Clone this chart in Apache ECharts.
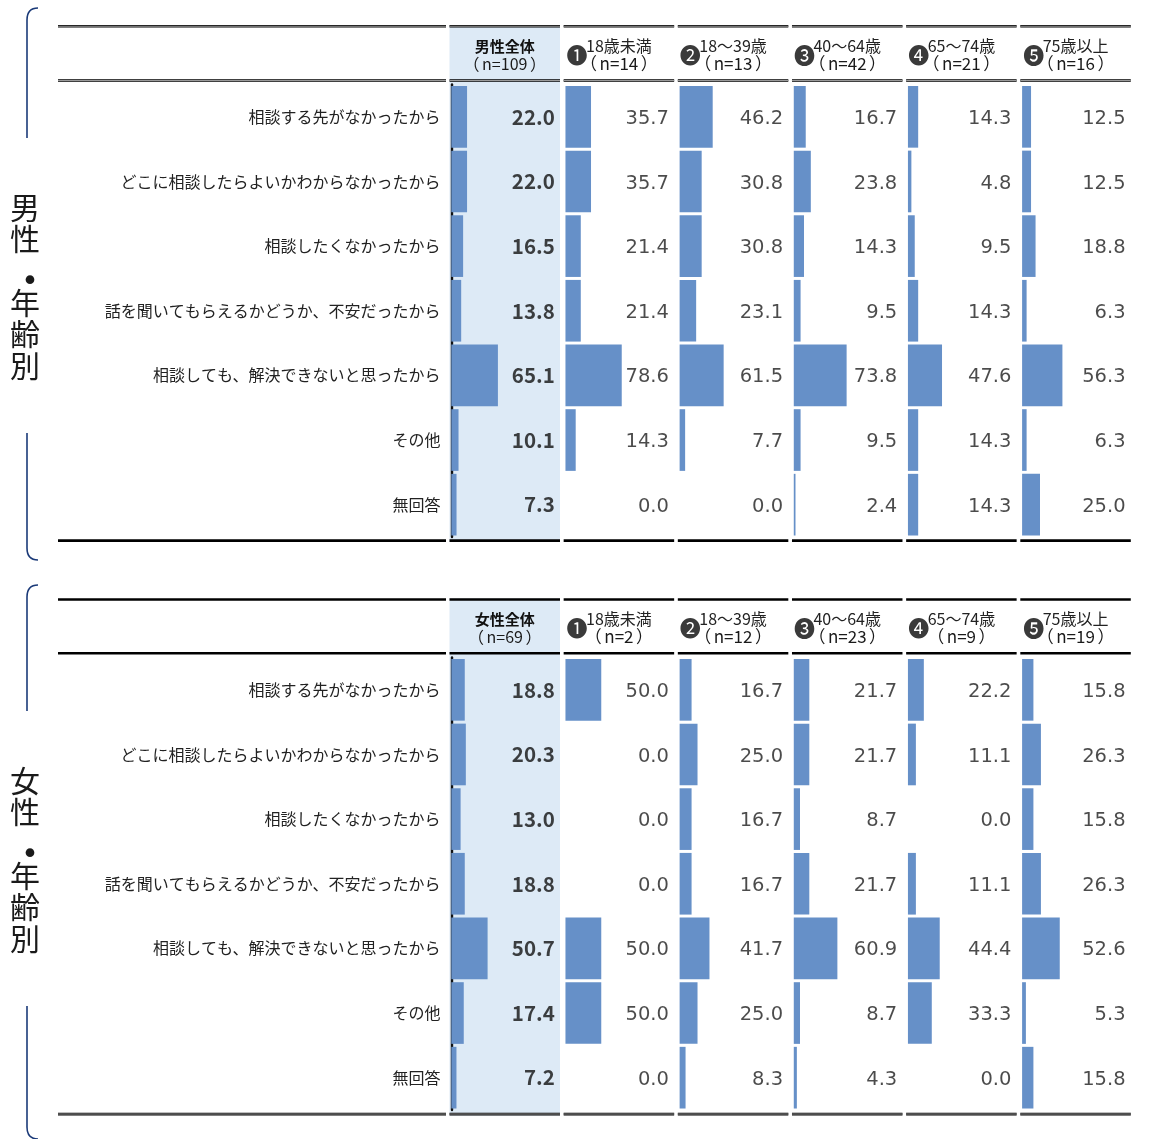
<!DOCTYPE html>
<html><head><meta charset="utf-8">
<script src="https://cdn.jsdelivr.net/npm/echarts@6/dist/echarts.min.js"></script>
<style>html,body{margin:0;padding:0;background:#fff}#main{width:1153px;height:1139px}</style>
</head><body><div id="main"></div>
<script>
// ---------- DATA ----------
const categories = [
  '相談する先がなかったから',
  'どこに相談したらよいかわからなかったから',
  '相談したくなかったから',
  '話を聞いてもらえるかどうか、不安だったから',
  '相談しても、解決できないと思ったから',
  'その他',
  '無回答'
];
const circledNums = ['', '❶', '❷', '❸', '❹', '❺'];
const maleHeaders = ['男性全体', '18歳未満', '18～39歳', '40～64歳', '65～74歳', '75歳以上'];
const maleN = ['（n=109）', '（n=14）', '（n=13）', '（n=42）', '（n=21）', '（n=16）'];
const femaleHeaders = ['女性全体', '18歳未満', '18～39歳', '40～64歳', '65～74歳', '75歳以上'];
const femaleN = ['（n=69）', '（n=2）', '（n=12）', '（n=23）', '（n=9）', '（n=19）'];

const maleTotal = [22.0, 22.0, 16.5, 13.8, 65.1, 10.1, 7.3];
const maleU18   = [35.7, 35.7, 21.4, 21.4, 78.6, 14.3, 0.0];
const male18_39 = [46.2, 30.8, 30.8, 23.1, 61.5, 7.7, 0.0];
const male40_64 = [16.7, 23.8, 14.3, 9.5, 73.8, 9.5, 2.4];
const male65_74 = [14.3, 4.8, 9.5, 14.3, 47.6, 14.3, 14.3];
const male75    = [12.5, 12.5, 18.8, 6.3, 56.3, 6.3, 25.0];

const femaleTotal = [18.8, 20.3, 13.0, 18.8, 50.7, 17.4, 7.2];
const femaleU18   = [50.0, 0.0, 0.0, 0.0, 50.0, 50.0, 0.0];
const female18_39 = [16.7, 25.0, 16.7, 16.7, 41.7, 25.0, 8.3];
const female40_64 = [21.7, 21.7, 8.7, 21.7, 60.9, 8.7, 4.3];
const female65_74 = [22.2, 11.1, 0.0, 11.1, 44.4, 33.3, 0.0];
const female75    = [15.8, 26.3, 15.8, 26.3, 52.6, 5.3, 15.8];

const maleTitle = ['男', '性', '・', '年', '齢', '別'];
const femaleTitle = ['女', '性', '・', '年', '齢', '別'];

// ---------- LAYOUT ----------
const JP = "'Noto Sans CJK JP', 'Noto Sans CJK SC', sans-serif";
const NUMF = "'DejaVu Sans', sans-serif";
const COL_PITCH = 114.16;
const COL_L0 = 449.5;
const COL_W = 110.5;
const LABEL_L = 58, LABEL_R = 446;
const PX_PER_100 = 71.6;
const BAR_OFF = 1.8;
const GRID_W = 104;
const XMAX = GRID_W / PX_PER_100 * 100;
const BODY_H = 452.5;
const BAR_COLOR = '#6690C8';
const BG_BLUE = '#DDEAF6';

const panels = [
  { dy: 0, headers: maleHeaders, ns: maleN, title: maleTitle,
    data: [maleTotal, maleU18, male18_39, male40_64, male65_74, male75],
    lines: [{y: 25, h: 2.6, dbl: true}, {y: 79.2, h: 2.6, dbl: true}, {y: 539.2, h: 2.7, dbl: false}],
    bracketTop: 8, bracketBot: 560 },
  { dy: 573, headers: femaleHeaders, ns: femaleN, title: femaleTitle,
    data: [femaleTotal, femaleU18, female18_39, female40_64, female65_74, female75],
    lines: [{y: 25.2, h: 2.6, dbl: false}, {y: 78.9, h: 2.5, dbl: false}, {y: 539.7, h: 2.8, dbl: true}],
    bracketTop: 12, bracketBot: 566 }
];

const colL = c => COL_L0 + c * COL_PITCH;

const measureCtx = document.createElement('canvas').getContext('2d');
function textW(txt, font) { measureCtx.font = font; return measureCtx.measureText(txt).width; }
function richN(s) {
  return s.split(/(（|）)/).filter(t => t.length).map(t => (t === '（' || t === '）' ? '{a|' : '{b|') + t + '}').join('');
}

const grids = [], xAxes = [], yAxes = [], series = [], graphics = [];

panels.forEach((p, pi) => {
  const bodyTop = 84.5 + p.dy;
  graphics.push({ type: 'rect', z: -10, shape: { x: colL(0), y: p.lines[0].y + p.dy, width: COL_W, height: p.lines[2].y - p.lines[0].y + p.lines[2].h }, style: { fill: BG_BLUE } });
  const segs = [[LABEL_L, LABEL_R]];
  for (let c = 0; c < 6; c++) segs.push([colL(c), colL(c) + COL_W]);
  p.lines.forEach(ln => {
    segs.forEach(s => {
      graphics.push({ type: 'rect', z: 5, shape: { x: s[0], y: ln.y + p.dy, width: s[1] - s[0], height: ln.h }, style: { fill: '#000' } });
      if (ln.dbl) graphics.push({ type: 'rect', z: 6, shape: { x: s[0], y: ln.y + p.dy + ln.h / 2 - 0.5, width: s[1] - s[0], height: 1 }, style: { fill: '#9a9a9a' } });
    });
  });
  p.headers.forEach((h, c) => {
    const cx = colL(c) + COL_W / 2;
    const nSize = c === 0 ? 16 : 17;
    graphics.push({ type: 'text', z: 10, style: {
      text: richN(p.ns[c]), x: cx, y: 63.5 + p.dy, align: 'center', verticalAlign: 'middle', textAlign: 'center', textVerticalAlign: 'middle',
      rich: {
        a: { fontSize: nSize, fontFamily: JP, fill: '#1a1a1a' },
        b: { fontSize: nSize, fontFamily: JP, fill: '#1a1a1a', padding: [0, 2.5, 0, 2.5] }
      } } });
    if (c === 0) {
      graphics.push({ type: 'text', z: 10, style: { text: h, x: cx, y: 46 + p.dy, align: 'center', verticalAlign: 'middle', textAlign: 'center', textVerticalAlign: 'middle', fontSize: 15, fontWeight: 'bold', fontFamily: JP, fill: '#111' } });
    } else {
      const w1 = textW(h, '16px ' + JP);
      graphics.push({ type: 'text', z: 10, style: { text: h, x: cx, y: 45.5 + p.dy, align: 'center', verticalAlign: 'middle', textAlign: 'center', textVerticalAlign: 'middle', fontSize: 16, fontFamily: JP, fill: '#222' } });
      graphics.push({ type: 'text', z: 10, style: { text: circledNums[c], x: cx - w1 / 2 + 1.5, y: 55.5 + p.dy, align: 'right', verticalAlign: 'middle', textAlign: 'right', textVerticalAlign: 'middle', fontSize: 21, fontFamily: JP, fill: '#3a3a3a' } });
    }
  });
  const ty = [208, 238.5, 280, 303, 334, 365.5];
  p.title.forEach((ch, i) => {
    graphics.push({ type: 'text', z: 10, style: { text: ch, x: i === 2 ? 30 : 25, y: ty[i] + p.dy, align: 'center', verticalAlign: 'middle', textAlign: 'center', textVerticalAlign: 'middle', fontSize: i === 2 ? 34 : 30, fontWeight: i === 2 ? 'bold' : 'normal', fontFamily: JP, fill: '#1a1a1a' } });
  });
  const bs = { stroke: '#1B3A78', lineWidth: 1.6, fill: 'none' };
  const bt = p.bracketTop + p.dy;
  graphics.push({ type: 'bezierCurve', shape: { x1: 38, y1: bt, cpx1: 27, cpy1: bt, x2: 27, y2: bt + 12 }, style: bs });
  graphics.push({ type: 'line', shape: { x1: 27, y1: bt + 12, x2: 27, y2: 138 + p.dy }, style: bs });
  graphics.push({ type: 'line', shape: { x1: 27, y1: 433 + p.dy, x2: 27, y2: p.bracketBot + p.dy - 12 }, style: bs });
  graphics.push({ type: 'bezierCurve', shape: { x1: 27, y1: p.bracketBot + p.dy - 12, cpx1: 27, cpy1: p.bracketBot + p.dy, x2: 38, y2: p.bracketBot + p.dy }, style: bs });

  p.data.forEach((vals, c) => {
    const gi = grids.length;
    grids.push({ left: colL(c) + BAR_OFF, top: bodyTop, width: GRID_W, height: BODY_H, containLabel: false });
    xAxes.push({ gridIndex: gi, type: 'value', min: 0, max: XMAX, show: false });
    yAxes.push({
      gridIndex: gi, type: 'category', data: categories, inverse: true,
      show: c === 0, offset: 6.8,
      axisLine: { show: c === 0, lineStyle: { color: '#111', width: 2.4 } },
      axisTick: { show: false }, splitLine: { show: false },
      axisLabel: { show: c === 0, margin: 4, fontSize: 16, fontFamily: JP, color: '#222' }
    });
    series.push({
      type: 'bar', xAxisIndex: gi, yAxisIndex: gi, data: vals,
      barCategoryGap: '4.6%', itemStyle: { color: BAR_COLOR }, silent: true
    });
    series.push({
      type: 'scatter', xAxisIndex: gi, yAxisIndex: gi, clip: false, silent: true,
      symbolSize: 1, itemStyle: { color: 'rgba(0,0,0,0)' },
      data: vals.map((v, i) => [XMAX, i, v]),
      label: {
        show: true, position: 'left', distance: 0, offset: c === 0 ? [0, 0] : [0, 2],
        formatter: prm => prm.value[2].toFixed(1),
        fontSize: c === 0 ? 20.5 : 19.5, fontFamily: c === 0 ? JP : NUMF, fontWeight: c === 0 ? 'bold' : 'normal',
        color: c === 0 ? '#111' : '#1e1e1e'
      }
    });
  });
});

const chart = echarts.init(document.getElementById('main'));
chart.setOption({
  animation: false,
  backgroundColor: '#fff',
  grid: grids, xAxis: xAxes, yAxis: yAxes, series: series,
  graphic: { elements: graphics }
});
</script></body></html>
